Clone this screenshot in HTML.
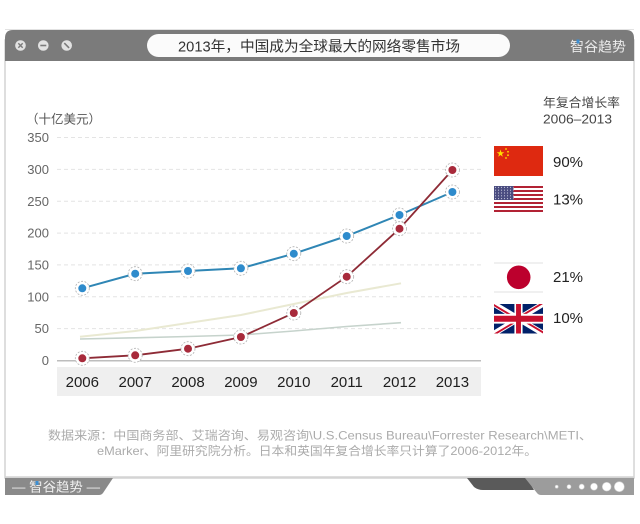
<!DOCTYPE html>
<html>
<head>
<meta charset="utf-8">
<style>
html,body{margin:0;padding:0;background:#fff;}
svg{display:block;}
text{font-family:"Liberation Sans","Noto Sans CJK SC",sans-serif;}
</style>
</head>
<body>
<svg width="640" height="524" viewBox="0 0 640 524" xmlns="http://www.w3.org/2000/svg">
  <rect width="640" height="524" fill="#fff"/>
  <!-- window body -->
  <rect x="5" y="40" width="629" height="438" fill="#fff" stroke="#d4d4d4" stroke-width="1.5"/>
  <!-- header bar -->
  <path d="M5,61 V38 Q5,30 13,30 H626 Q634,30 634,38 V61 Z" fill="#7b7b7b"/>
  <line x1="5" y1="29.5" x2="634" y2="29.5" stroke="#e2e2e2" stroke-width="1"/>
  <!-- buttons -->
  <circle cx="20.5" cy="45.5" r="5.3" fill="#e2e2e2"/>
  <path d="M18.3,43.3 L22.7,47.7 M22.7,43.3 L18.3,47.7" stroke="#7b7b7b" stroke-width="1.4"/>
  <circle cx="43.3" cy="45.5" r="5.3" fill="#e2e2e2"/>
  <path d="M40.3,45.5 H46.3" stroke="#7b7b7b" stroke-width="1.6"/>
  <circle cx="66.7" cy="45.5" r="5.3" fill="#e2e2e2"/>
  <path d="M64.3,43.1 L69.1,47.9" stroke="#7b7b7b" stroke-width="1.6"/>
  <!-- title pill -->
  <rect x="147" y="34" width="363" height="23" rx="11.5" fill="#fbfbfb"/>
  <text x="319" y="51.5" font-size="14.5" fill="#333" text-anchor="middle" textLength="282" lengthAdjust="spacingAndGlyphs">2013年，中国成为全球最大的网络零售市场</text>
  <text x="570" y="51.5" font-size="13.5" fill="#ececec" textLength="56" lengthAdjust="spacingAndGlyphs">智谷趋势</text>
  <rect x="576.5" y="39.5" width="3" height="4" fill="#3d8fd2"/>

  <!-- axis titles -->
  <text x="26" y="123.5" font-size="12.5" fill="#555">（十亿美元）</text>
  <text x="543" y="107" font-size="12.5" fill="#444" textLength="77" lengthAdjust="spacingAndGlyphs">年复合增长率</text>
  <text x="543" y="123.5" font-size="12.5" fill="#444" textLength="69" lengthAdjust="spacingAndGlyphs">2006–2013</text>

  <!-- gridlines -->
  <g stroke="#e4e4e4" stroke-width="1" stroke-dasharray="4,3">
    <line x1="57" y1="137.5" x2="481" y2="137.5"/>
    <line x1="57" y1="169.4" x2="481" y2="169.4"/>
    <line x1="57" y1="201.2" x2="481" y2="201.2"/>
    <line x1="57" y1="233.1" x2="481" y2="233.1"/>
    <line x1="57" y1="264.9" x2="481" y2="264.9"/>
    <line x1="57" y1="296.8" x2="481" y2="296.8"/>
    <line x1="57" y1="328.6" x2="481" y2="328.6"/>
  </g>
  <!-- y labels -->
  <g font-size="13" fill="#666" text-anchor="end">
    <text x="49" y="142">350</text>
    <text x="49" y="174">300</text>
    <text x="49" y="206">250</text>
    <text x="49" y="237.5">200</text>
    <text x="49" y="269.5">150</text>
    <text x="49" y="301.5">100</text>
    <text x="49" y="333">50</text>
    <text x="49" y="365">0</text>
  </g>
  <!-- x band -->
  <rect x="57" y="367" width="424" height="29" fill="#efefef"/>
  <line x1="57" y1="360.8" x2="481" y2="360.8" stroke="#bdbdbd" stroke-width="1.5"/>
  <g font-size="15" fill="#1e1e1e" text-anchor="middle">
    <text x="82.3" y="387">2006</text>
    <text x="135.2" y="387">2007</text>
    <text x="188" y="387">2008</text>
    <text x="240.9" y="387">2009</text>
    <text x="293.8" y="387">2010</text>
    <text x="346.7" y="387">2011</text>
    <text x="399.5" y="387">2012</text>
    <text x="452.4" y="387">2013</text>
  </g>

  <!-- Japan & UK lines -->
  <polyline points="80,336.7 135.2,331 188,323 240.9,315 293.8,304 346.7,293 401,283.3" fill="none" stroke="#e9e9d2" stroke-width="2"/>
  <polyline points="80,339 135.2,337.8 188,336.5 240.9,335 293.8,331 346.7,326.5 401,322.7" fill="none" stroke="#c6d3cc" stroke-width="1.6"/>

  <!-- US line -->
  <polyline points="82.3,288.3 135.2,273.7 188,271 240.9,268.3 293.8,253.7 346.7,236 399.5,215 452.4,192" fill="none" stroke="#2f86b5" stroke-width="2"/>
  <!-- China line -->
  <polyline points="82.3,358.3 135.2,355.3 188,348.7 240.9,337 293.8,313 346.7,276.7 399.5,228.7 452.4,170" fill="none" stroke="#8e2b36" stroke-width="1.8"/>

  <!-- markers -->
  <g fill="#fff" stroke="#b0b0b0" stroke-width="0.8" stroke-dasharray="2,1.5">
    <circle cx="82.3" cy="288.3" r="7"/><circle cx="135.2" cy="273.7" r="7"/><circle cx="188" cy="271" r="7"/><circle cx="240.9" cy="268.3" r="7"/><circle cx="293.8" cy="253.7" r="7"/><circle cx="346.7" cy="236" r="7"/><circle cx="399.5" cy="215" r="7"/><circle cx="452.4" cy="192" r="7"/>
    <circle cx="82.3" cy="358.3" r="7"/><circle cx="135.2" cy="355.3" r="7"/><circle cx="188" cy="348.7" r="7"/><circle cx="240.9" cy="337" r="7"/><circle cx="293.8" cy="313" r="7"/><circle cx="346.7" cy="276.7" r="7"/><circle cx="399.5" cy="228.7" r="7"/><circle cx="452.4" cy="170" r="7"/>
  </g>
  <g fill="#2e8bcc">
    <circle cx="82.3" cy="288.3" r="4"/><circle cx="135.2" cy="273.7" r="4"/><circle cx="188" cy="271" r="4"/><circle cx="240.9" cy="268.3" r="4"/><circle cx="293.8" cy="253.7" r="4"/><circle cx="346.7" cy="236" r="4"/><circle cx="399.5" cy="215" r="4"/><circle cx="452.4" cy="192" r="4"/>
  </g>
  <g fill="#a82a3b">
    <circle cx="82.3" cy="358.3" r="4"/><circle cx="135.2" cy="355.3" r="4"/><circle cx="188" cy="348.7" r="4"/><circle cx="240.9" cy="337" r="4"/><circle cx="293.8" cy="313" r="4"/><circle cx="346.7" cy="276.7" r="4"/><circle cx="399.5" cy="228.7" r="4"/><circle cx="452.4" cy="170" r="4"/>
  </g>

  <!-- China flag -->
  <rect x="494" y="146" width="49" height="30" fill="#de2910"/>
  <polygon points="500.5,149.5 501.4,152.26 504.3,152.26 501.96,153.97 502.85,156.74 500.5,155.03 498.15,156.74 499.04,153.97 496.7,152.26 499.6,152.26" fill="#ffde00"/>
  <g fill="#ffde00">
    <circle cx="506" cy="149" r="0.9"/><circle cx="508" cy="151.8" r="0.9"/><circle cx="508" cy="155.2" r="0.9"/><circle cx="506" cy="158" r="0.9"/>
  </g>
  <!-- US flag -->
  <rect x="494" y="186" width="49" height="26" fill="#fff"/>
  <g fill="#b22234">
    <rect x="494" y="186" width="49" height="2"/><rect x="494" y="190" width="49" height="2"/><rect x="494" y="194" width="49" height="2"/><rect x="494" y="198" width="49" height="2"/><rect x="494" y="202" width="49" height="2"/><rect x="494" y="206" width="49" height="2"/><rect x="494" y="210" width="49" height="2"/>
  </g>
  <rect x="494" y="186" width="19.5" height="14" fill="#4a4c80"/>
  <defs>
    <pattern id="stars" x="494" y="186" width="3" height="2.8" patternUnits="userSpaceOnUse">
      <circle cx="1.5" cy="1.4" r="0.6" fill="#c8cadf"/>
    </pattern>
  </defs>
  <rect x="494" y="186" width="19.5" height="14" fill="url(#stars)"/>
  <!-- Japan flag -->
  <rect x="494" y="263" width="49" height="29" fill="#fff"/>
  <line x1="494" y1="263" x2="543" y2="263" stroke="#e0e0e0" stroke-width="1"/>
  <line x1="494" y1="292" x2="543" y2="292" stroke="#e0e0e0" stroke-width="1"/>
  <circle cx="518.7" cy="277.3" r="11.8" fill="#bc002d"/>
  <!-- UK flag -->
  <svg x="494" y="304" width="49" height="29.5" viewBox="0 0 60 30" preserveAspectRatio="none">
    <clipPath id="ukt"><path d="M30,15 h30 v15 z v15 h-30 z h-30 v-15 z v-15 h30 z"/></clipPath>
    <rect width="60" height="30" fill="#012169"/>
    <path d="M0,0 L60,30 M60,0 L0,30" stroke="#fff" stroke-width="6"/>
    <path d="M0,0 L60,30 M60,0 L0,30" clip-path="url(#ukt)" stroke="#C8102E" stroke-width="4"/>
    <path d="M30,0 v30 M0,15 h60" stroke="#fff" stroke-width="10"/>
    <path d="M30,0 v30 M0,15 h60" stroke="#C8102E" stroke-width="6"/>
  </svg>
  <!-- percent labels -->
  <g font-size="15" fill="#222">
    <text x="553" y="167">90%</text>
    <text x="553" y="204.5">13%</text>
    <text x="553" y="282">21%</text>
    <text x="553" y="323">10%</text>
  </g>

  <!-- footnote -->
  <text x="48" y="439.5" font-size="12" fill="#ababab" textLength="544" lengthAdjust="spacingAndGlyphs">数据来源：中国商务部、艾瑞咨询、易观咨询\U.S.Census Bureau\Forrester Research\METI、</text>
  <text x="97" y="455" font-size="12" fill="#ababab" textLength="440" lengthAdjust="spacingAndGlyphs">eMarker、阿里研究院分析。日本和英国年复合增长率只计算了2006-2012年。</text>

  <!-- footer -->
  <line x1="5" y1="477" x2="634" y2="477" stroke="#d4d4d4" stroke-width="1.5"/>
  <path d="M5,478 H113 L103,493 Q101.5,495 99,495 H5 Z" fill="#8a8a8a"/>
  <text x="12" y="491.5" font-size="13" fill="#efefef" textLength="88" lengthAdjust="spacingAndGlyphs">— 智谷趋势 —</text>
  <rect x="35.5" y="481" width="3" height="4" fill="#3d8fd2"/>
  <path d="M467,478 H527 L534,490 H483 Q478,490 474,487 Z" fill="#5a5a5a"/>
  <path d="M525,478 H634 V495 H541 Q538.5,495 537,493 Z" fill="#9c9c9c"/>
  <g fill="#fff" stroke="#d0d0d0" stroke-width="0.6">
    <circle cx="556.7" cy="486.7" r="1.5"/>
    <circle cx="569" cy="486.7" r="2"/>
    <circle cx="581.7" cy="486.7" r="2.6"/>
    <circle cx="594" cy="486.7" r="3.5"/>
    <circle cx="606.7" cy="486.7" r="4.4"/>
    <circle cx="619.3" cy="486.7" r="5"/>
  </g>
</svg>
</body>
</html>
